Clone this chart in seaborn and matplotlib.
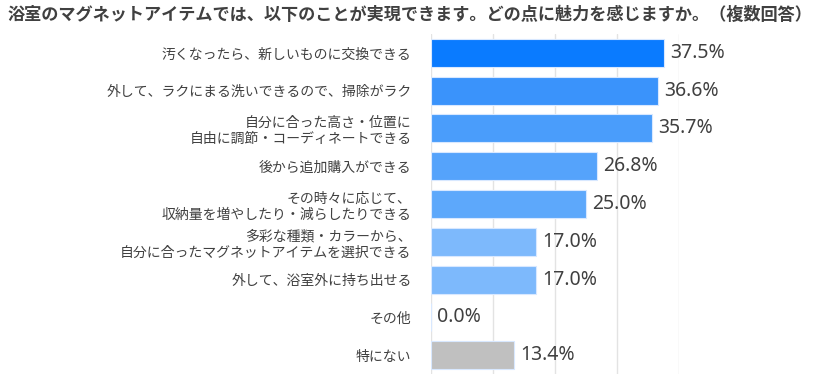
import pandas as pd
import matplotlib.pyplot as plt
import seaborn as sns

categories = [
    "汚くなったら、新しいものに交換できる",
    "外して、ラクにまる洗いできるので、掃除がラク",
    "自分に合った高さ・位置に\n自由に調節・コーディネートできる",
    "後から追加購入ができる",
    "その時々に応じて、\n収納量を増やしたり・減らしたりできる",
    "多彩な種類・カラーから、\n自分に合ったマグネットアイテムを選択できる",
    "外して、浴室外に持ち出せる",
    "その他",
    "特にない",
]
values = [37.5, 36.6, 35.7, 26.8, 25.0, 17.0, 17.0, 0.0, 13.4]
bar_colors = ["#0A7BFF", "#3A93FB", "#4A9DFB", "#55A3FB", "#5DA8FB",
              "#7DB9FC", "#7DB9FC", "#7DB9FC", "#C0C0C0"]

title = "浴室のマグネットアイテムでは、以下のことが実現できます。どの点に魅力を感じますか。（複数回答）"

df = pd.DataFrame({"item": categories, "pct": values})

sns.set_style("white")
plt.rcParams["font.family"] = ["Noto Sans CJK JP", "DejaVu Sans"]

fig = plt.figure(figsize=(8.38, 3.89), dpi=100)
ax = fig.add_axes([431 / 838, 1 - 374 / 389, (679 - 431) / 838, 340 / 389])

sns.barplot(data=df, y="item", x="pct", hue="item", palette=bar_colors,
            orient="h", width=0.74, saturation=1, legend=False, ax=ax,
            edgecolor="#D8E8FF", linewidth=0.8)

ax.set_xlim(0, 40)
ax.set_xticks([0, 10, 20, 30, 40])
ax.xaxis.grid(True, color="#E3E3E3", linewidth=1)
ax.set_axisbelow(True)
ax.tick_params(axis="x", length=0, labelbottom=False)
ax.tick_params(axis="y", length=0, pad=14, labelsize=10, labelcolor="#404040")
ax.set_xlabel("")
ax.set_ylabel("")
for s in ax.spines.values():
    s.set_visible(False)

for i, v in enumerate(values):
    ax.text(v + 1.0, i, f"{v:.1f}%", va="center", ha="left", fontsize=14,
            color="#404040", family=["Noto Sans", "DejaVu Sans"], clip_on=False)

fig.text(8 / 838, 1 - 15 / 389, title, fontsize=12.35, fontweight="bold",
         color="#404040", va="center", ha="left")

fig.savefig("out.png", dpi=100)
